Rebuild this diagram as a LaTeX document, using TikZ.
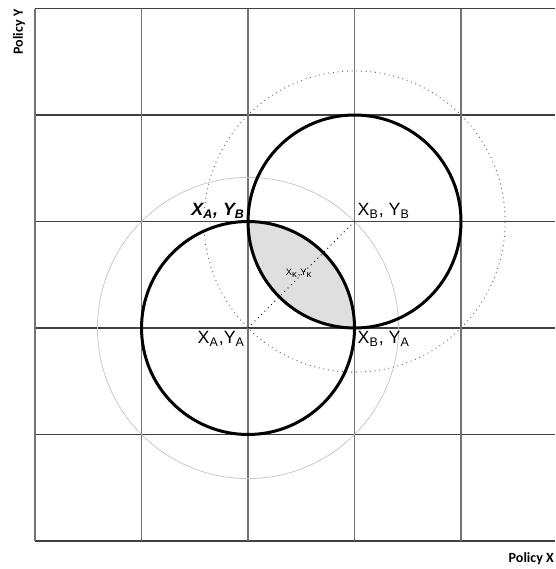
\documentclass[tikz,border=0pt]{standalone}
\usepackage{fontspec}
\setmainfont{Liberation Sans}
\newfontfamily\axisfont{Carlito}
\begin{document}
\begin{tikzpicture}[x=2cm,y=2cm,
  gridline/.style={black!75,line width=0.7pt},
  rangecirc/.style={black,line width=1.6pt},
  pointlbl/.style={font=\fontsize{9.5}{11}\selectfont,inner sep=1.5pt},
  axislbl/.style={font=\axisfont\bfseries\fontsize{7.5}{9}\selectfont,inner sep=0pt}]
\useasboundingbox (-0.329,-0.263) rectangle (4.883,5.08);
% grid
\foreach \i in {0,...,5} \draw[gridline] (0,\i) -- (4.883,\i);
\foreach \i in {0,...,4} \draw[gridline,black!55] (\i,0) -- (\i,5);
% ideal points
\coordinate (A) at (2,2);
\coordinate (B) at (3,3);
% shaded overlap
\begin{scope}
\clip (A) circle (1);
\fill[gray!25] (B) circle (1);
\end{scope}
% outer circles
\draw[black!22,line width=0.4pt] (A) circle ({sqrt(2)});
\draw[black!60,dotted,line width=0.5pt] (B) circle ({sqrt(2)});
% inner circles
\draw[rangecirc] (A) circle (1);
\draw[rangecirc] (B) circle (1);
\draw[dotted,line width=0.5pt] (A) -- (B);
% labels
\node[pointlbl,anchor=north east] (lblAA) at (A) {X\textsubscript{A},Y\textsubscript{A}};
\node[pointlbl,anchor=south west] (lblBB) at (B) {X\textsubscript{B}, Y\textsubscript{B}};
\node[pointlbl,anchor=south east] (lblAB) at (2,3) {\textbf{\textit{X\textsubscript{A}, Y\textsubscript{B}}}};
\node[pointlbl,anchor=north west] (lblBA) at (3,2) {X\textsubscript{B}, Y\textsubscript{A}};
\node[font=\fontsize{5}{6}\selectfont,inner sep=0pt] (lblK) at (2.48,2.51) {X\textsubscript{κ},Y\textsubscript{κ}};
% axes
\node[axislbl,rotate=90] (axY) at (-0.15,4.78) {Policy Y};
\node[axislbl,anchor=east] (axX) at (4.875,-0.17) {Policy X};
\end{tikzpicture}
\end{document}
